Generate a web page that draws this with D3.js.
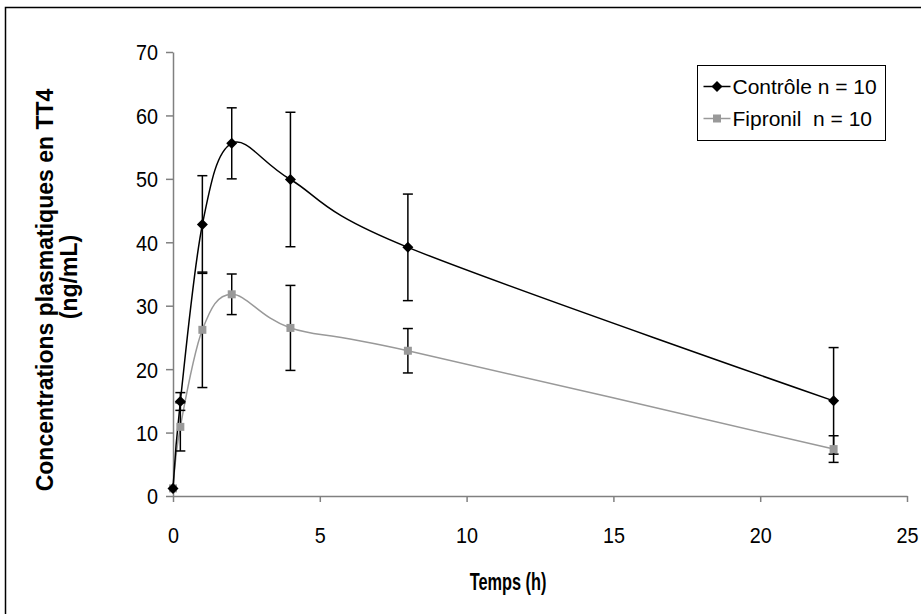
<!DOCTYPE html>
<html>
<head>
<meta charset="utf-8">
<script src="https://cdn.jsdelivr.net/npm/d3@7"></script>
<style>
    body { margin: 0; background: #fff; }
    text { font-family: "Liberation Sans", Arial, sans-serif; }
</style>
</head>
<body>
<div id="chart"></div>
<script>
    // values
    var times = [0, 0.25, 1, 2, 4, 8, 22.5];
    var controle = [1.2, 14.9, 42.8, 55.6, 49.9, 39.2, 15.0];
    var controleErr = [0, 1.4, 7.7, 5.6, 10.6, 8.4, 8.4];
    var fipronil = [1.2, 10.9, 26.2, 31.8, 26.5, 22.9, 7.4];
    var fipronilErr = [0, 3.8, 9.1, 3.2, 6.7, 3.5, 2.1];
    var xTicks = [0, 5, 10, 15, 20, 25];
    var yTicks = [0, 10, 20, 30, 40, 50, 60, 70];
    var legendLabels = ["Contrôle n = 10", "Fipronil  n = 10"];

    var width = 921, height = 614;
    var axisColor = "#808080";
    var squeeze = 0.9; // the original text is drawn a bit narrow

    var svg = d3.select("#chart").append("svg")
        .attr("width", width)
        .attr("height", height);

    // outer chart frame (cut off at right and bottom)
    svg.append("rect")
        .attr("x", 5.5)
        .attr("y", 7.5)
        .attr("width", width + 10)
        .attr("height", height + 10)
        .style("fill", "white")
        .style("stroke", "black")
        .style("stroke-width", 1.5);

    var x = d3.scaleLinear().domain([0, 25]).range([173, 907]);
    var y = d3.scaleLinear().domain([0, 70]).range([496, 52]);

    var xAxis = d3.axisBottom(x).tickValues(xTicks).tickSize(6).tickSizeOuter(0);
    var yAxis = d3.axisLeft(y).tickValues(yTicks).tickSize(7).tickSizeOuter(0);

    var gx = svg.append("g")
        .attr("transform", "translate(0," + y(0) + ")")
        .call(xAxis);
    var gy = svg.append("g")
        .attr("transform", "translate(" + x(0) + ",0)")
        .call(yAxis);

    [gx, gy].forEach(function (g) {
        g.select(".domain").style("stroke", axisColor).style("stroke-width", 1.5);
        g.selectAll(".tick line").style("stroke", axisColor).style("stroke-width", 1.5);
        g.selectAll(".tick text")
            .style("font-family", "'Liberation Sans', Arial, sans-serif")
            .style("font-size", "22px")
            .style("fill", "black");
    });
    gx.selectAll(".tick text")
        .attr("y", 47).attr("dy", 0)
        .attr("transform", "scale(" + squeeze + ",1)");
    gy.selectAll(".tick text")
        .attr("x", -15 / squeeze).attr("dy", "0.36em")
        .attr("transform", "scale(" + squeeze + ",1)");

    // axis titles
    svg.append("text")
        .attr("transform", "translate(508,590) scale(0.68,1)")
        .attr("text-anchor", "middle")
        .style("font-weight", "bold")
        .style("font-size", "24px")
        .text("Temps (h)");

    svg.append("text")
        .attr("transform", "translate(53,290) rotate(-90)")
        .attr("text-anchor", "middle")
        .style("font-weight", "bold")
        .style("font-size", "23px")
        .text("Concentrations plasmatiques en TT4");
    svg.append("text")
        .attr("transform", "translate(77,277) rotate(-90)")
        .attr("text-anchor", "middle")
        .style("font-weight", "bold")
        .style("font-size", "23px")
        .text("(ng/mL)");

    var series = [
        {name: "fipronil", values: fipronil, err: fipronilErr, color: "#999999", marker: "square"},
        {name: "controle", values: controle, err: controleErr, color: "black", marker: "diamond"}
    ];

    var line = d3.line()
        .x(function (d) { return x(d.t); })
        .y(function (d) { return y(d.v); })
        .curve(d3.curveCardinal.tension(0));

    var diamond = "M0,-5.5L5.5,0L0,5.5L-5.5,0Z";
    var square = "M-4,-4H4V4H-4Z";

    series.forEach(function (s) {
        s.points = times.map(function (t, i) {
            return {t: t, v: s.values[i], e: s.err[i]};
        });
        svg.append("path")
            .attr("d", line(s.points))
            .style("fill", "none")
            .style("stroke", s.color)
            .style("stroke-width", 1.5);
    });

    // error bars
    series.forEach(function (s) {
        var eb = svg.append("g").attr("class", "err-" + s.name)
            .selectAll("g")
            .data(s.points.filter(function (d) { return d.e > 0; }))
            .enter().append("g");
        eb.append("line")
            .attr("x1", function (d) { return x(d.t); })
            .attr("x2", function (d) { return x(d.t); })
            .attr("y1", function (d) { return y(d.v - d.e); })
            .attr("y2", function (d) { return y(d.v + d.e); });
        [-1, 1].forEach(function (sign) {
            eb.append("line")
                .attr("x1", function (d) { return x(d.t) - 5; })
                .attr("x2", function (d) { return x(d.t) + 5; })
                .attr("y1", function (d) { return y(d.v + sign * d.e); })
                .attr("y2", function (d) { return y(d.v + sign * d.e); });
        });
        eb.selectAll("line").style("stroke", "black").style("stroke-width", 1.5);
    });

    // markers
    series.forEach(function (s) {
        svg.append("g").selectAll("path")
            .data(s.points)
            .enter().append("path")
            .attr("d", s.marker === "diamond" ? diamond : square)
            .attr("transform", function (d) {
                return "translate(" + x(d.t) + "," + y(d.v) + ")";
            })
            .style("fill", s.color);
    });

    // legend
    var legend = svg.append("g").attr("transform", "translate(697.5,65.5)");
    legend.append("rect")
        .attr("width", 188)
        .attr("height", 75)
        .style("fill", "white")
        .style("stroke", "black")
        .style("stroke-width", 1);

    var legendItems = legend.selectAll(".item")
        .data([series[1], series[0]])
        .enter().append("g")
        .attr("class", "item")
        .attr("transform", function (d, i) {
            return "translate(0," + (21 + i * 32) + ")";
        });
    legendItems.append("line")
        .attr("x1", 6).attr("x2", 33)
        .attr("y1", 0).attr("y2", 0)
        .style("stroke", function (d) { return d.color; })
        .style("stroke-width", 1.5);
    legendItems.append("path")
        .attr("d", function (d) { return d.marker === "diamond" ? diamond : square; })
        .attr("transform", "translate(19.5,0)")
        .style("fill", function (d) { return d.color; });
    legendItems.append("text")
        .attr("x", 35)
        .attr("y", 0)
        .attr("dy", "0.36em")
        .style("font-size", "21px")
        .style("white-space", "pre")
        .text(function (d, i) { return legendLabels[i]; });
</script>
</body>
</html>
